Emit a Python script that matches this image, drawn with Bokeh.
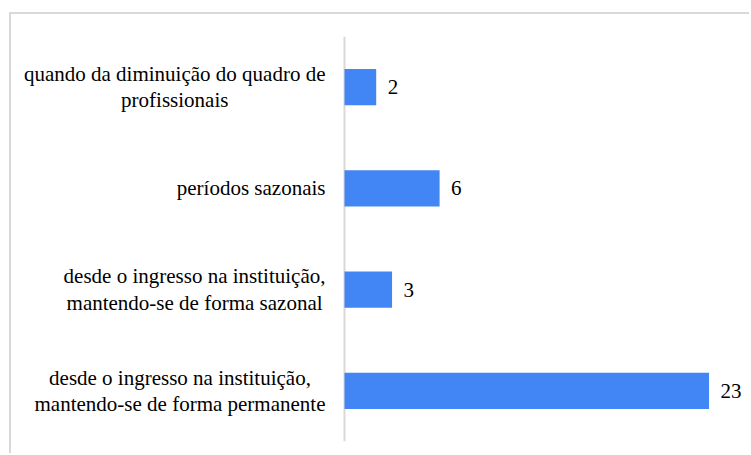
from bokeh.plotting import figure
from bokeh.models import ColumnDataSource, Range1d, FactorRange, Span
from bokeh.core.properties import value
from bokeh.embed import file_html
from bokeh.resources import INLINE

categories = [
    "quando da diminuição do quadro de\nprofissionais",
    "períodos sazonais",
    "desde o ingresso na instituição,\nmantendo-se de forma sazonal",
    "desde o ingresso na instituição,\nmantendo-se de forma permanente",
]
counts = [2, 6, 3, 23]
value_labels = [str(v) for v in counts]

FONT = "Liberation Serif"
FS = 21
BLUE = "#4285F4"
GRAY = "#d9d9d9"
STANDOFF = 19

# Times / Liberation Serif advance widths (per 1000 em) used to centre multi-line labels
W = {"q": 500, "u": 500, "a": 444, "n": 500, "d": 500, "o": 500, "i": 278, "m": 778,
     "ç": 444, "ã": 444, "r": 333, "e": 444, "p": 500, "f": 333, "s": 389, "l": 278,
     "t": 278, "í": 278, "z": 444, "g": 500, ",": 250, "-": 333, " ": 250}


def block_width(s):
    return max(sum(W.get(c, 500) for c in line) for line in s.split("\n")) * FS / 1000


label_offsets = [-(STANDOFF + block_width(c) / 2) for c in categories]

src = ColumnDataSource(dict(cat=categories, val=counts, lab=value_labels,
                            xoff=label_offsets, zero=[0] * len(counts)))

PX_PER_UNIT = 15.85
FRAME_W = 740
ZERO_PX = 333

p = figure(
    width=FRAME_W, height=441,
    y_range=FactorRange(factors=list(reversed(categories)), range_padding=0),
    x_range=Range1d(-ZERO_PX / PX_PER_UNIT, (FRAME_W - ZERO_PX) / PX_PER_UNIT),
    output_backend="svg", toolbar_location=None,
    min_border_left=0, min_border_right=0, min_border_top=22, min_border_bottom=14,
    styles={"border-top": f"2px solid {GRAY}", "border-left": f"2px solid {GRAY}",
            "margin-left": "9px", "margin-top": "12px"},
)

p.add_layout(Span(location=0, dimension="height", line_color=GRAY, line_width=2,
                  level="underlay"))

p.hbar(y="cat", right="val", left=0, height=0.356, source=src,
       fill_color=BLUE, line_color=None)

p.text(x="val", y="cat", text="lab", source=src, x_offset=11.5,
       text_baseline="middle", text_align="left",
       text_font=value(FONT), text_font_size=f"{FS}px", text_color="#000000")

p.text(x="zero", y="cat", text="cat", x_offset="xoff", source=src,
       text_align="center", text_baseline="middle",
       text_font=value(FONT), text_font_size=f"{FS}px",
       text_color="#000000", text_line_height=1.1)

p.xaxis.visible = False
p.yaxis.visible = False
p.xgrid.visible = False
p.ygrid.visible = False
p.outline_line_color = None

open("out.html", "w").write(file_html(p, INLINE))
